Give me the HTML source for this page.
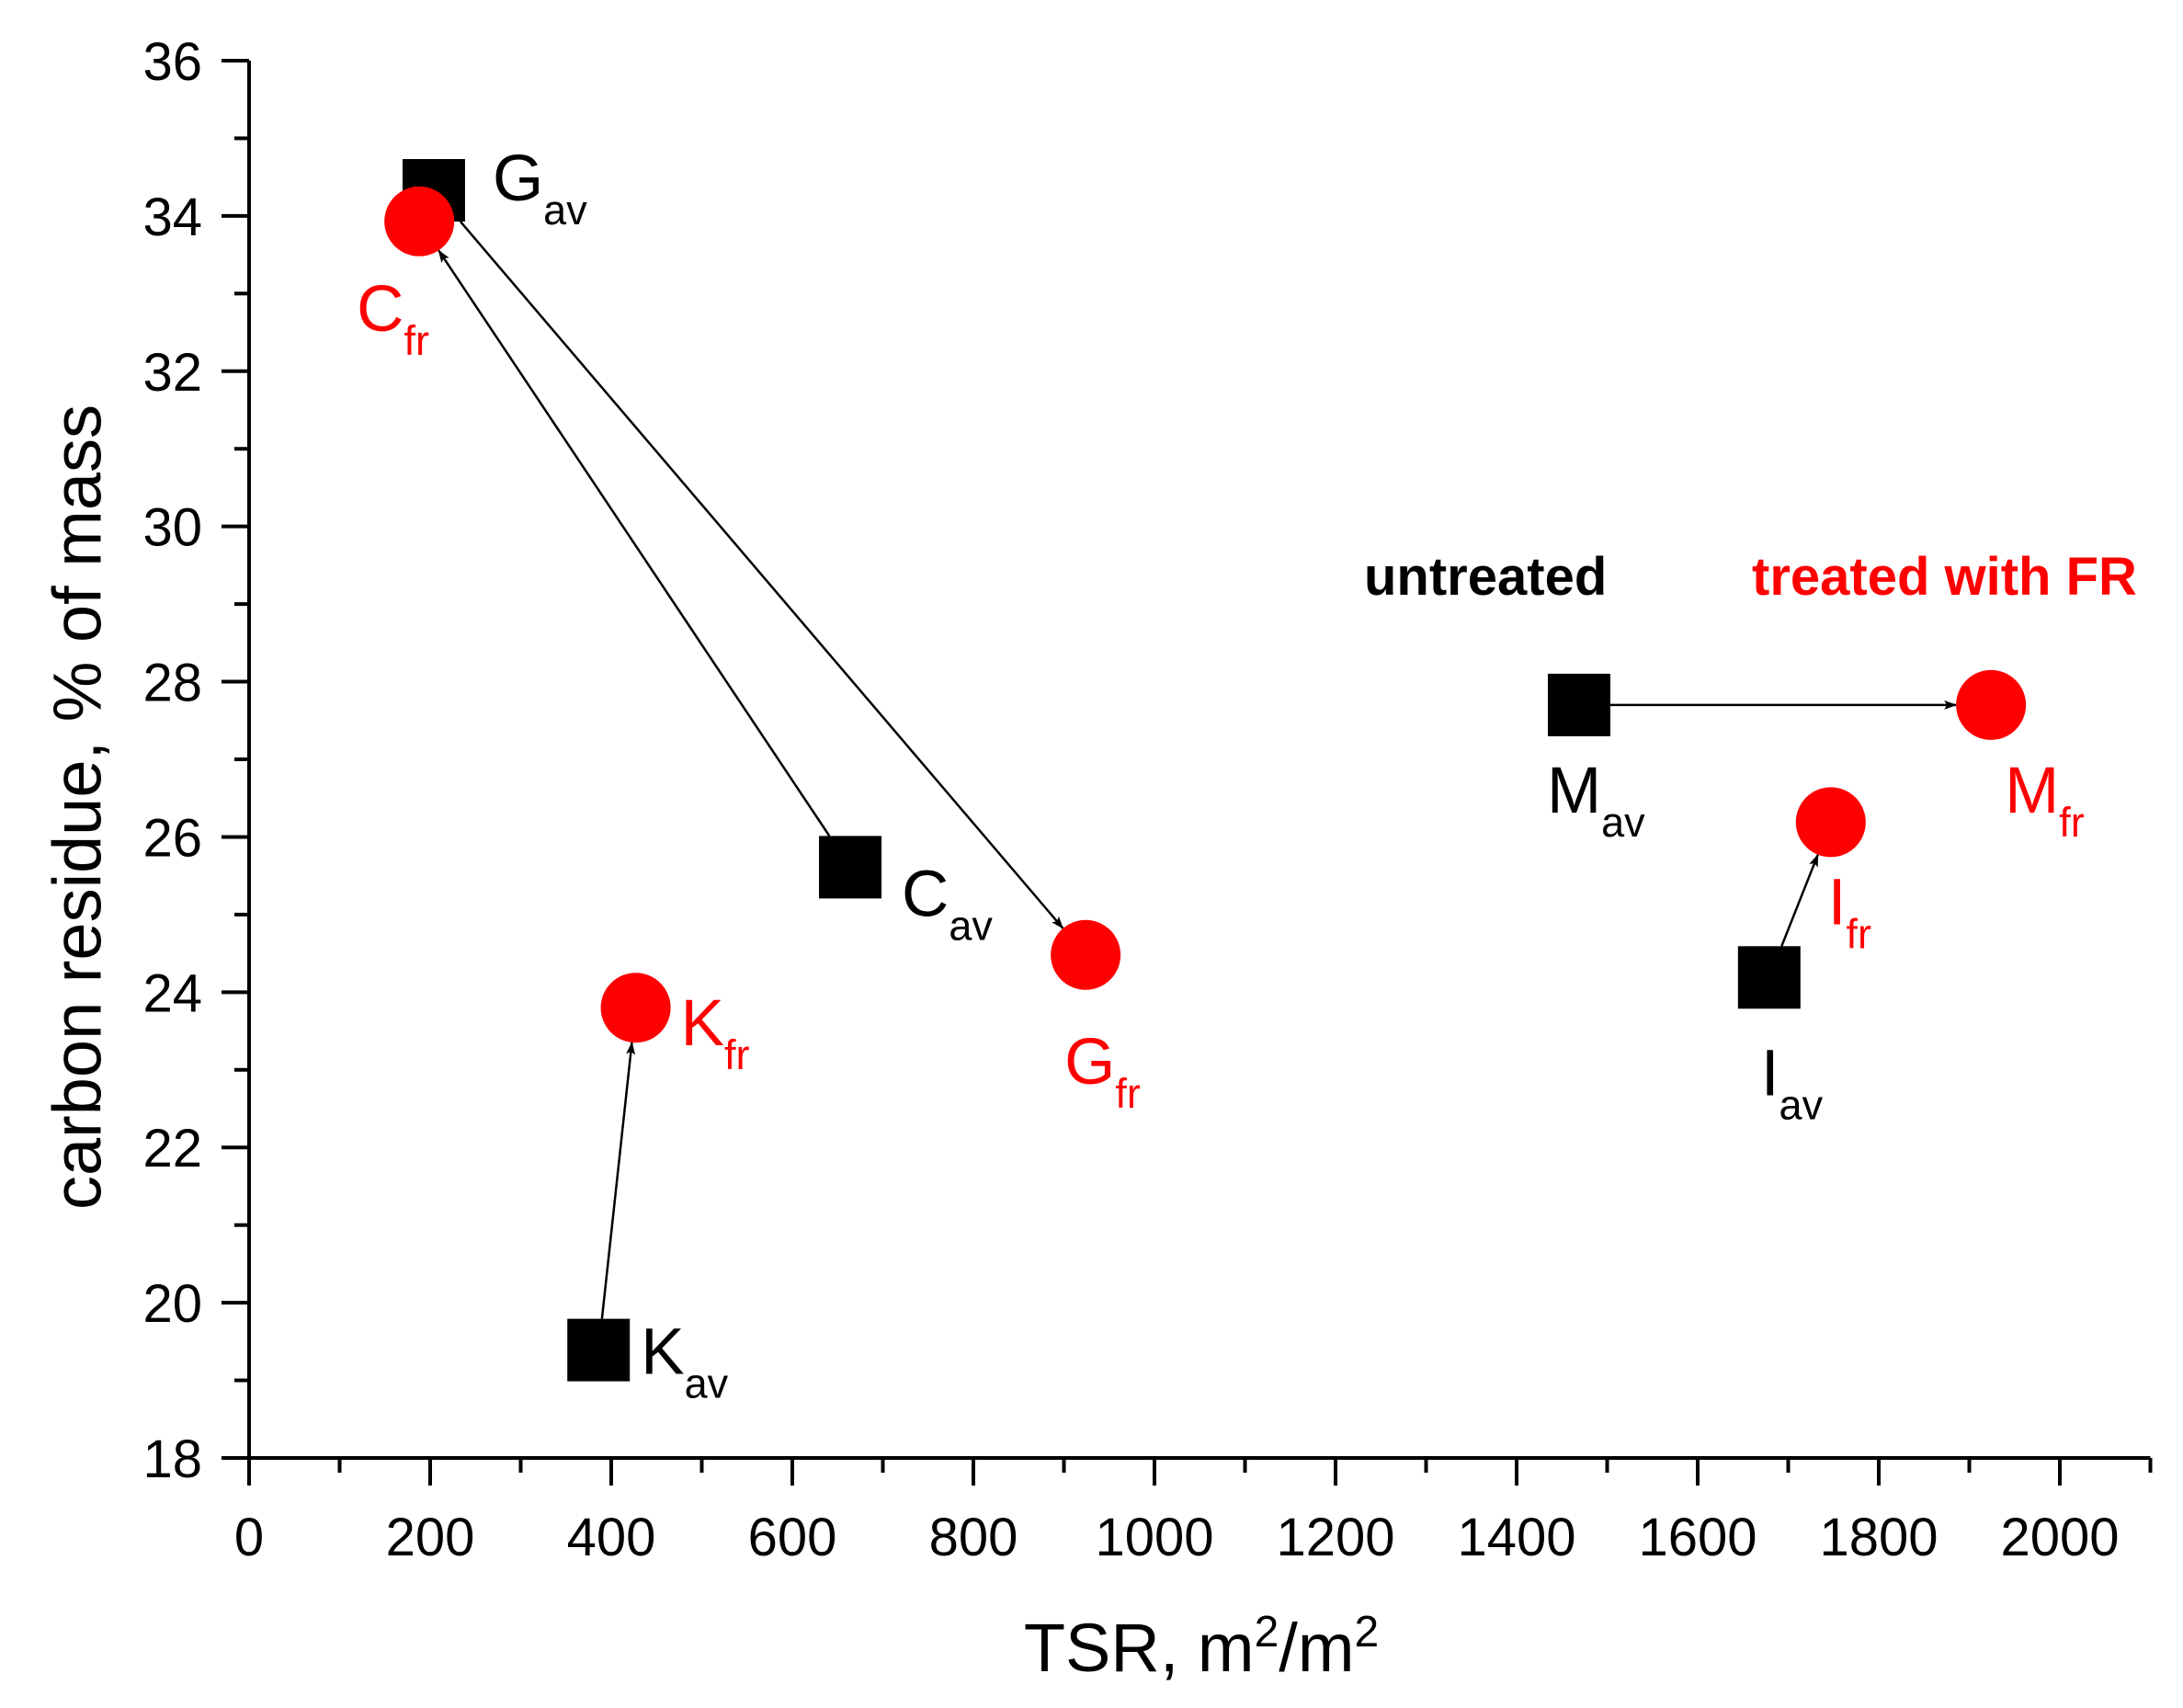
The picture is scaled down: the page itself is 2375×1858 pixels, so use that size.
<!DOCTYPE html>
<html><head><meta charset="utf-8"><style>
html,body{margin:0;padding:0;background:#fff;}
svg{display:block;font-family:"Liberation Sans",Arial,sans-serif;}
</style></head><body>
<svg id="chart" width="2375" height="1858" viewBox="0 0 2375 1858" xmlns="http://www.w3.org/2000/svg">
<defs><marker id="ah" markerWidth="14" markerHeight="10" refX="13" refY="5" orient="auto" markerUnits="userSpaceOnUse"><path d="M0,0 L14,5 L0,10 L3,5 Z" fill="#000"/></marker></defs>
<g id="axes"></g>
<g id="arrows"></g>
<g id="marks"></g>
<g id="labels"></g>
<text x="84" y="878" transform="rotate(-90 84 878)" text-anchor="middle" dominant-baseline="central" font-size="74">carbon residue, % of mass</text>
<text x="1307" y="1818" text-anchor="middle" font-size="74">TSR, m<tspan font-size="48" dy="-27">2</tspan><tspan dy="27">/m</tspan><tspan font-size="48" dy="-27">2</tspan></text>
<text x="1484" y="647" font-size="58" font-weight="bold" fill="#000">untreated</text>
<text x="1906" y="647" font-size="58" font-weight="bold" fill="#ff0000">treated with FR</text>
</svg>
<script>
const xTicks = [0,200,400,600,800,1000,1200,1400,1600,1800,2000];
const yTicks = [18,20,22,24,26,28,30,32,34,36];
const pointNames = ["G","C","K","M","I"];
const avX = [204,664,386,1469,1679];
const avY = [34.33,25.61,19.39,27.7,24.19];
const frX = [924,188,427,1924,1747];
const frY = [24.48,33.93,23.8,27.7,26.19];

const X0=271, XS=1970/2000, XMAX=2100;
const Y0=1586, YS=1520/18, YMIN=18, YMAX=36;
const sx=v=>X0+v*XS, sy=v=>Y0-(v-YMIN)*YS;
const NS="http://www.w3.org/2000/svg";
function mk(tag,attrs,parent){const e=document.createElementNS(NS,tag);for(const k in attrs)e.setAttribute(k,attrs[k]);parent.appendChild(e);return e;}
const axes=document.getElementById('axes');
let l=mk('line',{x1:X0,y1:sy(YMIN),x2:X0,y2:sy(YMAX),stroke:'#000','stroke-width':4},axes);


l=mk('line',{x1:X0-30,y1:Y0,x2:sx(XMAX),y2:Y0,stroke:'#000','stroke-width':4},axes);


for(let v=0;v<=XMAX;v+=100){const major=v%200===0;const t=mk('line',{x1:sx(v),y1:Y0,x2:sx(v),y2:Y0+(major?30:16),stroke:'#000','stroke-width':4},axes);

}
xTicks.forEach(v=>{const t=mk('text',{x:sx(v),y:1692,'text-anchor':'middle','font-size':58},axes);t.textContent=v;

});
for(let v=YMIN;v<=YMAX;v+=1){const major=v%2===0;const t=mk('line',{x1:X0-(major?30:16),y1:sy(v),x2:X0,y2:sy(v),stroke:'#000','stroke-width':4},axes);

}
yTicks.forEach(v=>{const t=mk('text',{x:220,y:sy(v)+21,'text-anchor':'end','font-size':58},axes);t.textContent=v;

});

const arrows=document.getElementById('arrows'), marks=document.getElementById('marks'), labels=document.getElementById('labels');
const R=38, H=34;
pointNames.forEach((n,i)=>{
  const x1=sx(avX[i]),y1=sy(avY[i]),x2=sx(frX[i]),y2=sy(frY[i]);
  const dx=x2-x1,dy=y2-y1,d=Math.hypot(dx,dy);
  const ux=dx/d,uy=dy/d;
  const s=Math.min(H/Math.abs(ux||1e-9),H/Math.abs(uy||1e-9));
  const a=mk('line',{x1:x1+ux*s,y1:y1+uy*s,x2:x2-ux*R,y2:y2-uy*R,stroke:'#000','stroke-width':2.5,'marker-end':'url(#ah)'},arrows);
  
  
});
pointNames.forEach((n,i)=>{
  const r=mk('rect',{x:sx(avX[i])-H,y:sy(avY[i])-H,width:2*H,height:2*H,fill:'#000'},marks);
  
  
});
pointNames.forEach((n,i)=>{
  const c=mk('circle',{cx:sx(frX[i]),cy:sy(frY[i]),r:R,fill:'#ff0000'},marks);
  
  
});
const avOff = [[64,11],[56,53],[46,26],[-35,117],[-9,128]];
const frOff = [[-23,140],[-68,119],[49,41],[15,117],[-3,111]];
function label(n,sub,x,y,color,name){
  const t=mk('text',{x:x,y:y,'font-size':71,fill:color},labels);
  
  
  t.appendChild(document.createTextNode(n));
  const s=mk('tspan',{'font-size':45,dy:26},t);s.textContent=sub;
}
pointNames.forEach((n,i)=>{
  label(n,'av',sx(avX[i])+avOff[i][0],sy(avY[i])+avOff[i][1],'#000','label-'+n.toLowerCase()+'-av');
  label(n,'fr',sx(frX[i])+frOff[i][0],sy(frY[i])+frOff[i][1],'#ff0000','label-'+n.toLowerCase()+'-fr');
});
</script>
</body></html>
